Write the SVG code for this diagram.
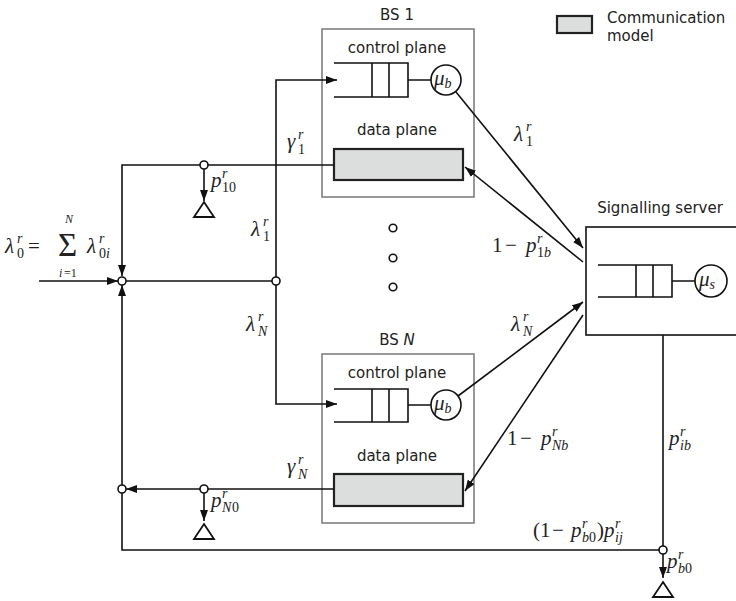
<svg xmlns="http://www.w3.org/2000/svg" width="736" height="601" viewBox="0 0 736 601">
<defs>
<marker id="ah" viewBox="0 0 11 8" refX="11" refY="4" markerWidth="11" markerHeight="8" markerUnits="userSpaceOnUse" orient="auto">
<path d="M0,0 L11,4 L0,8 z" fill="#111"/>
</marker>
<style>
.ln{fill:none;stroke:#111;stroke-width:1.6}
.ar{fill:none;stroke:#111;stroke-width:1.6;marker-end:url(#ah)}
.box{fill:#fff;stroke:#777;stroke-width:1.5}
.dp{fill:#dcdddd;stroke:#222;stroke-width:2.2}
.q{fill:none;stroke:#111;stroke-width:1.6}
.nd{fill:#fff;stroke:#111;stroke-width:1.6}
.tri{fill:#fff;stroke:#111;stroke-width:1.8}
.sans{font-family:"DejaVu Sans",sans-serif;font-size:15px;fill:#222}
.m{font-family:"Liberation Serif",serif;font-style:italic;font-size:21px;fill:#222}
.mn{font-family:"Liberation Serif",serif;font-style:normal;font-size:21px;fill:#222}
.s{font-size:14px}
.sn{font-size:14px;font-style:normal}
.lim{font-size:12px}
.sig{font-size:33px}
</style>
</defs>

<!-- legend -->
<g id="legend">
<rect x="557" y="16" width="35" height="17" class="dp"/>
<text x="607" y="23" class="sans">Communication</text>
<text x="607" y="41" class="sans">model</text>
</g>

<!-- BS 1 -->
<g id="bs1">
<text x="397" y="20" text-anchor="middle" class="sans">BS 1</text>
<rect x="322" y="29" width="152" height="168" class="box"/>
<text x="397" y="53" text-anchor="middle" class="sans">control plane</text>
<path d="M334,63 H408 V97 H334 M372,63 V97 M389,63 V97 M408,80 H431" class="q"/>
<circle cx="446" cy="80" r="15" class="nd"/>
<text x="434" y="85" class="m">μ<tspan class="s" dy="3">b</tspan></text>
<text x="397" y="135" text-anchor="middle" class="sans">data plane</text>
<rect x="334" y="149" width="129" height="31" class="dp"/>
</g>

<!-- BS N -->
<g id="bsN">
<text x="397" y="345" text-anchor="middle" class="sans">BS <tspan font-style="italic">N</tspan></text>
<rect x="322" y="354" width="152" height="169" class="box"/>
<text x="397" y="378" text-anchor="middle" class="sans">control plane</text>
<path d="M334,389 H408 V422 H334 M372,389 V422 M389,389 V422 M408,405 H431" class="q"/>
<circle cx="446" cy="405" r="15" class="nd"/>
<text x="434" y="410" class="m">μ<tspan class="s" dy="3">b</tspan></text>
<text x="397" y="461" text-anchor="middle" class="sans">data plane</text>
<rect x="334" y="474" width="129" height="32" class="dp"/>
</g>

<!-- dots -->
<g id="dots">
<circle cx="393" cy="228" r="3.8" class="nd"/>
<circle cx="393" cy="258" r="3.8" class="nd"/>
<circle cx="393" cy="287" r="3.8" class="nd"/>
</g>

<!-- server -->
<g id="server">
<text x="660" y="213" text-anchor="middle" class="sans">Signalling server</text>
<rect x="586" y="227" width="152" height="108" fill="#fff" stroke="#111" stroke-width="1.6"/>
<path d="M598,265 H672 V297 H598 M636,265 V297 M653,265 V297 M672,281 H695" class="q"/>
<circle cx="711" cy="281" r="16" class="nd"/>
<text x="699" y="286" class="m">μ<tspan class="s" dy="3">s</tspan></text>
</g>

<!-- connectors -->
<g id="connectors">
<path d="M334,165 H122 V276" class="ar"/>
<path d="M39,281 H118" class="ar"/>
<path d="M126,281 H272" class="ln"/>
<path d="M276,277 V80 H337" class="ar"/>
<path d="M276,285 V404 H337" class="ar"/>
<path d="M204,169 V201" class="ar"/>
<path d="M456,92 L583,248" class="ar"/>
<path d="M583,262 L465,167" class="ar"/>
<path d="M458,396 L583,302" class="ar"/>
<path d="M583,315 L465,491" class="ar"/>
<path d="M334,489 H208" class="ln"/>
<path d="M200,489 H126" class="ar"/>
<path d="M204,493 V521" class="ar"/>
<path d="M663,335 V546" class="ln"/>
<path d="M659,550 H122 V493" class="ln"/>
<path d="M122,485 V285" class="ar"/>
<path d="M663,554 V578" class="ar"/>
</g>

<!-- junction nodes and sinks -->
<g id="nodes">
<circle cx="122" cy="281" r="4" class="nd"/>
<circle cx="276" cy="281" r="4" class="nd"/>
<circle cx="204" cy="165" r="4" class="nd"/>
<circle cx="122" cy="489" r="4" class="nd"/>
<circle cx="204" cy="489" r="4" class="nd"/>
<circle cx="663" cy="550" r="4" class="nd"/>
<path d="M204,202 L214,217 L194,217 z" class="tri"/>
<path d="M204,524 L214,539 L194,539 z" class="tri"/>
<path d="M663,582 L673,597 L653,597 z" class="tri"/>
</g>

<!-- labels -->
<g id="labels">
<text class="m" x="5" y="253">λ</text><text class="m s" x="17" y="243">r</text><text class="mn sn" x="17" y="258">0</text>
<text class="mn" x="28" y="253">=</text>
<text class="mn sig" x="58" y="256">Σ</text>
<text class="m lim" x="65" y="223">N</text>
<text class="m lim" x="59" y="277">i</text><text class="mn lim" x="64" y="277">=1</text>
<text class="m" x="87" y="253">λ</text><text class="m s" x="99" y="243">r</text><text class="mn sn" x="99" y="258">0</text><text class="m s" x="106" y="258">i</text>

<text class="m" x="287" y="148">γ</text><text class="m s" x="298" y="139">r</text><text class="mn sn" x="298" y="154">1</text>
<text class="m" x="211" y="187">p</text><text class="m s" x="222" y="178">r</text><text class="mn sn" x="222" y="192">10</text>
<text class="m" x="251" y="236">λ</text><text class="m s" x="263" y="226">r</text><text class="mn sn" x="263" y="241">1</text>
<text class="m" x="246" y="331">λ</text><text class="m s" x="258" y="321">r</text><text class="m s" x="258" y="336">N</text>
<text class="m" x="287" y="473">γ</text><text class="m s" x="298" y="464">r</text><text class="m s" x="298" y="479">N</text>
<text class="m" x="211" y="507">p</text><text class="m s" x="222" y="498">r</text><text class="m s" x="222" y="512">N</text><text class="mn sn" x="232" y="512">0</text>

<text class="m" x="514" y="141">λ</text><text class="m s" x="526" y="131">r</text><text class="mn sn" x="526" y="146">1</text>
<text class="mn" x="492" y="252">1</text><text class="mn" x="505" y="252">−</text><text class="m" x="526" y="252">p</text><text class="m s" x="537" y="243">r</text><text class="mn sn" x="537" y="257">1</text><text class="m s" x="544" y="257">b</text>
<text class="m" x="511" y="331">λ</text><text class="m s" x="523" y="321">r</text><text class="m s" x="523" y="336">N</text>
<text class="mn" x="507" y="445">1</text><text class="mn" x="520" y="445">−</text><text class="m" x="541" y="445">p</text><text class="m s" x="552" y="436">r</text><text class="m s" x="552" y="450">Nb</text>
<text class="m" x="669" y="445">p</text><text class="m s" x="680" y="436">r</text><text class="m s" x="680" y="450">ib</text>
<text class="mn" x="533" y="537">(1</text><text class="mn" x="552" y="537">−</text><text class="m" x="571" y="537">p</text><text class="m s" x="582" y="528">r</text><text class="m s" x="582" y="542">b</text><text class="mn sn" x="589" y="542">0</text><text class="mn" x="597" y="537">)</text><text class="m" x="604" y="537">p</text><text class="m s" x="615" y="528">r</text><text class="m s" x="615" y="542">ij</text>
<text class="m" x="667" y="568">p</text><text class="m s" x="678" y="559">r</text><text class="m s" x="678" y="573">b</text><text class="mn sn" x="685" y="573">0</text>
</g>
</svg>
